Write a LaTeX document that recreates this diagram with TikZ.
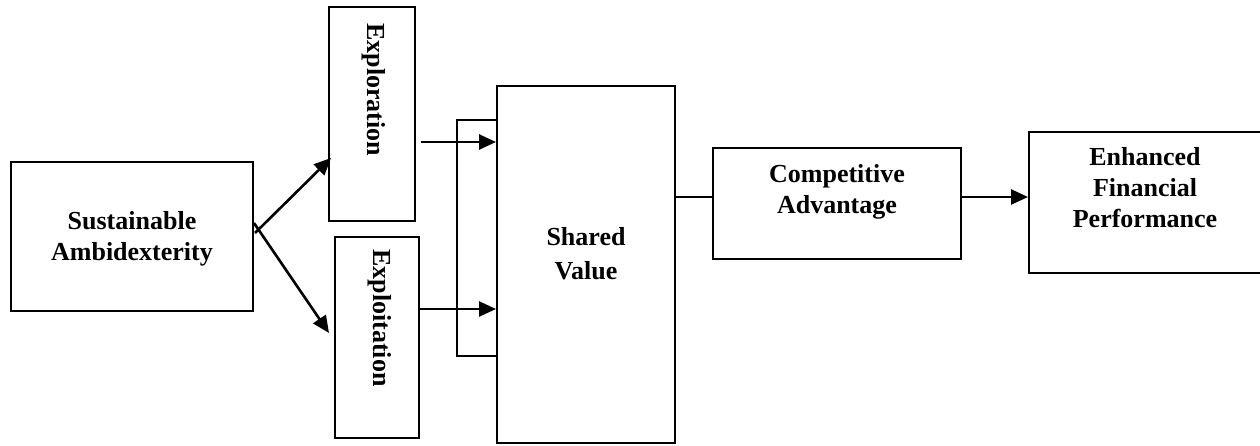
\documentclass[tikz,border=0pt]{standalone}
\usepackage{fontspec}
\setmainfont{Liberation Serif}
\usetikzlibrary{arrows.meta}

\tikzset{
  box/.style={draw=black, line width=2pt, inner sep=0pt, fill=none},
  lbl/.style={inner sep=0pt, align=center, font=\bfseries\fontsize{26}{31}\selectfont},
  vlbl/.style={inner sep=0pt, rotate=-90, anchor=base west, font=\bfseries\fontsize{26}{31}\selectfont},
  arr/.style={line width=2.6pt, -{Triangle[length=17pt,width=15pt]}},
  link/.style={line width=2.4pt},
  frame/.style={line width=2pt}
}

\begin{document}
\begin{tikzpicture}[x=1pt,y=-1pt]
\useasboundingbox (0,0) rectangle (1260,445);

% boxes
\node[box, minimum width=242pt, minimum height=149pt] (sa) at (132,236.5) {};
\node[box, minimum width=86pt,  minimum height=214pt] (xr) at (372,114) {};
\node[box, minimum width=84pt,  minimum height=201pt] (xt) at (377,337.5) {};
\node[box, minimum width=178pt, minimum height=357pt] (sv) at (586,264.5) {};
\node[box, minimum width=248pt, minimum height=111pt] (ca) at (837,203.5) {};
\node[box, minimum width=233pt, minimum height=141pt] (ef) at (1145.5,202.5) {};

% labels
\node[lbl] (sa-t) at (132,239) {Sustainable\\Ambidexterity};
\node[vlbl] (xr-t) at (367,23) {Exploration};
\node[vlbl] (xt-t) at (373,249) {Exploitation};
\node[lbl] (sv-t) at (586,254) {Shared\\[3pt]Value};
\node[lbl] (ca-t) at (837,192) {Competitive\\Advantage};
\node[lbl] (ef-t) at (1145,188) {Enhanced\\Financial\\Performance};

% fork out of the first box
\coordinate (fork-up) at (255,233);
\coordinate (fork-dn) at (254,223);
\coordinate (xr-in) at (331,158);
\coordinate (xt-in) at (329,333);
\draw[arr] (fork-up) -- (xr-in);
\draw[arr] (fork-dn) -- (xt-in);

% bracket on the left of the shared value box
\draw[frame] (sv.west |- 0,120) -- (457,120) -- (457,356) -- (sv.west |- 0,356);

% inputs into shared value
\draw[arr] ([xshift=5pt]xr.east |- 0,142) -- (sv.west |- 0,142);
\draw[arr] (xt.east |- 0,309) -- (sv.west |- 0,309);

% chain to the right
\draw[link] (sv.east |- 0,197) -- (ca.west |- 0,197);
\draw[arr] (ca.east |- 0,197) -- (ef.west |- 0,197);
\end{tikzpicture}
\end{document}
